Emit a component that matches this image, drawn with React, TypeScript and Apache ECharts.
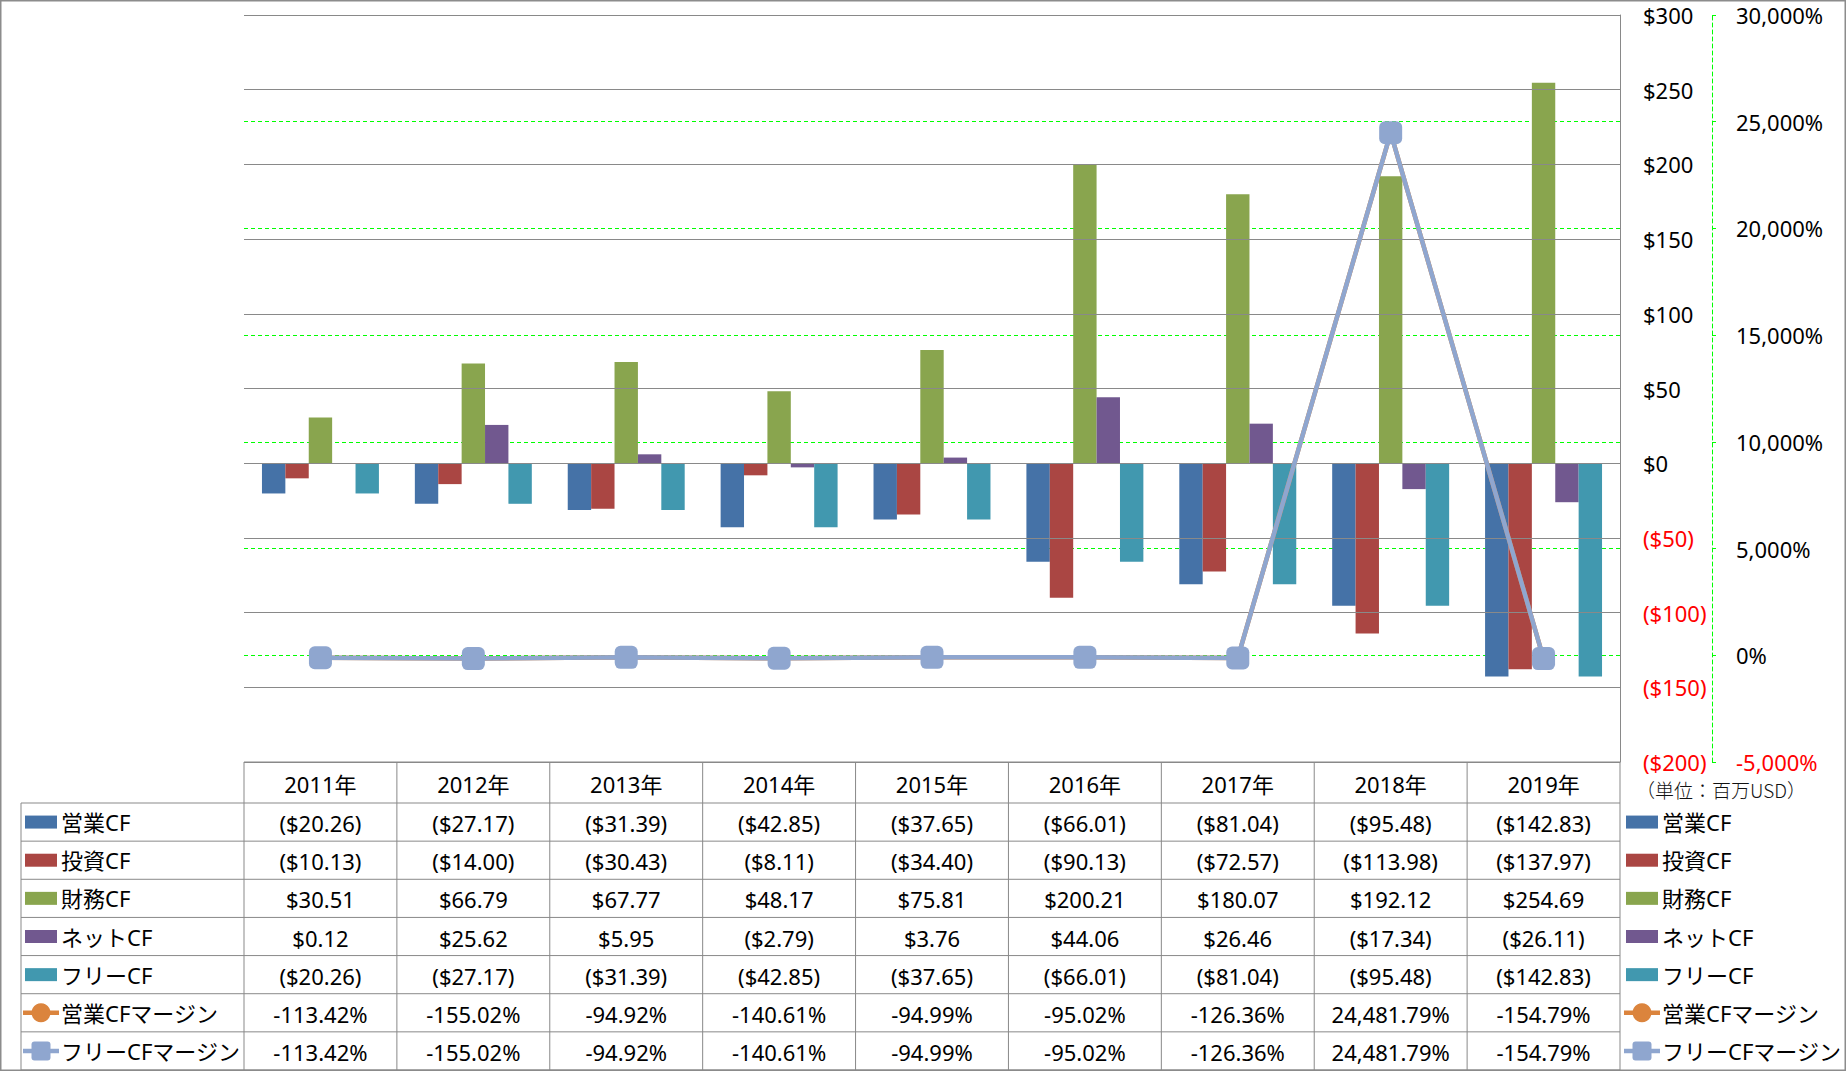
import React, { useEffect, useRef } from "react";
import * as echarts from "echarts";

// ---------- data ----------
const categories = ["2011年", "2012年", "2013年", "2014年", "2015年", "2016年", "2017年", "2018年", "2019年"];
const operatingCF = [-20.26, -27.17, -31.39, -42.85, -37.65, -66.01, -81.04, -95.48, -142.83];
const investingCF = [-10.13, -14.0, -30.43, -8.11, -34.4, -90.13, -72.57, -113.98, -137.97];
const financingCF = [30.51, 66.79, 67.77, 48.17, 75.81, 200.21, 180.07, 192.12, 254.69];
const netCF = [0.12, 25.62, 5.95, -2.79, 3.76, 44.06, 26.46, -17.34, -26.11];
const freeCF = [-20.26, -27.17, -31.39, -42.85, -37.65, -66.01, -81.04, -95.48, -142.83];
const operatingMargin = [-113.42, -155.02, -94.92, -140.61, -94.99, -95.02, -126.36, 24481.79, -154.79];
const freeMargin = [-113.42, -155.02, -94.92, -140.61, -94.99, -95.02, -126.36, 24481.79, -154.79];

const seriesNames = ["営業CF", "投資CF", "財務CF", "ネットCF", "フリーCF", "営業CFマージン", "フリーCFマージン"];
const seriesColors = ["#4572A7", "#AA4643", "#89A54E", "#71588F", "#4198AF", "#DB843D", "#8FA6CF"];
const unitLabel = "（単位：百万USD）";

// primary axis (USD) and secondary axis (%)
const usdMin = -200, usdMax = 300, usdStep = 50;
const pctMin = -5000, pctMax = 30000, pctStep = 5000;

// ---------- layout ----------
const W = 1847, H = 1071;
const PLOT_L = 244, PLOT_R = 1620, PLOT_T = 15, PLOT_B = 762;
const HEAD_B = 803, TABLE_B = 1070, LEG_L = 21;
const FONT = "'Noto Sans', 'Noto Sans CJK JP', sans-serif";
const LINE_COLOR = "#898989";
const FS = 22;

const money = (v: number) => {
  const s = "$" + Math.abs(v).toFixed(2);
  return v < 0 ? `(${s})` : s;
};
const pctFmt = new Intl.NumberFormat("en-US", { minimumFractionDigits: 2, maximumFractionDigits: 2 });
const pct = (v: number) => pctFmt.format(v) + "%";
const intFmt = new Intl.NumberFormat("en-US");

export default function App() {
  const ref = useRef<HTMLDivElement>(null);

  useEffect(() => {
    if (!ref.current) return;
    const chart = echarts.init(ref.current, null, { renderer: "svg", width: W, height: H });

    const rows = [
      { values: operatingCF, fmt: money, kind: "bar" },
      { values: investingCF, fmt: money, kind: "bar" },
      { values: financingCF, fmt: money, kind: "bar" },
      { values: netCF, fmt: money, kind: "bar" },
      { values: freeCF, fmt: money, kind: "bar" },
      { values: operatingMargin, fmt: pct, kind: "circle" },
      { values: freeMargin, fmt: pct, kind: "square" },
    ];

    const n = categories.length;
    const cw = (PLOT_R - PLOT_L) / n;
    const rh = (TABLE_B - HEAD_B) / rows.length;
    const g: any[] = [];
    const line = (x1: number, y1: number, x2: number, y2: number) =>
      g.push({ type: "line", silent: true, z: 10, shape: { x1, y1, x2, y2 }, style: { stroke: LINE_COLOR, lineWidth: 1 } });
    const text = (x: number, y: number, t: string, align: string, extra: any = {}) =>
      g.push({
        type: "text",
        silent: true,
        x,
        y,
        style: {
          text: t,
          font: `${FS}px ${FONT}`,
          fill: "#000",
          align,
          verticalAlign: "middle",
          textAlign: align,
          textVerticalAlign: "middle",
          ...extra,
        },
      });

    // outer border
    g.push({
      type: "rect",
      silent: true,
      shape: { x: 0.75, y: 0.75, width: W - 2.5, height: H - 1.5 },
      style: { fill: "none", stroke: "#8c8c8c", lineWidth: 1.5 },
    });

    // table grid
    line(PLOT_L, PLOT_B, PLOT_R, PLOT_B);
    for (let r = 0; r <= rows.length; r++) {
      const y = HEAD_B + r * rh;
      line(LEG_L, y, PLOT_R, y);
    }
    for (let c = 0; c <= n; c++) {
      const x = PLOT_L + c * cw;
      line(x, PLOT_B, x, TABLE_B);
    }
    line(LEG_L, HEAD_B, LEG_L, TABLE_B);

    // header
    categories.forEach((c, i) => text(PLOT_L + (i + 0.5) * cw, (PLOT_B + HEAD_B) / 2 + 1, c, "center"));

    // legend key helper
    const key = (x: number, y: number, idx: number) => {
      const kind = rows[idx].kind;
      const col = seriesColors[idx];
      if (kind === "bar") {
        g.push({ type: "rect", silent: true, shape: { x, y: y - 6.5, width: 32, height: 13 }, style: { fill: col } });
      } else {
        g.push({ type: "line", silent: true, shape: { x1: x - 2, y1: y, x2: x + 34, y2: y }, style: { stroke: col, lineWidth: 4.5 } });
        if (kind === "circle") {
          g.push({ type: "circle", silent: true, shape: { cx: x + 16, cy: y, r: 9.5 }, style: { fill: col } });
        } else {
          g.push({ type: "rect", silent: true, shape: { x: x + 6.5, y: y - 9.5, width: 19, height: 19, r: 3 }, style: { fill: col } });
        }
      }
    };

    rows.forEach((row, r) => {
      const y = HEAD_B + (r + 0.5) * rh;
      // left legend
      key(25, y, r);
      text(61, y, seriesNames[r], "left");
      // right legend
      key(1626, y, r);
      text(1662, y, seriesNames[r], "left");
      // values
      row.values.forEach((v, i) => text(PLOT_L + (i + 0.5) * cw, y + 1, row.fmt(v), "center"));
    });

    // unit label
    g.push({
      type: "text",
      silent: true,
      x: 1636,
      y: 789,
      style: {
        text: unitLabel,
        font: `300 19px 'Noto Sans CJK JP', sans-serif`,
        fill: "#111",
        align: "left",
        verticalAlign: "middle",
        textAlign: "left",
        textVerticalAlign: "middle",
      },
    });

    const barSeries = [operatingCF, investingCF, financingCF, netCF, freeCF].map((d, i) => ({
      name: seriesNames[i],
      type: "bar",
      yAxisIndex: 0,
      data: d,
      barGap: "0%",
      barCategoryGap: "23.5%",
      itemStyle: { color: seriesColors[i] },
    }));

    const option: any = {
      animation: false,
      backgroundColor: "#fff",
      textStyle: { fontFamily: FONT },
      grid: {
        left: PLOT_L,
        right: W - PLOT_R,
        top: PLOT_T,
        bottom: H - PLOT_B,
        containLabel: false,
        outerBoundsMode: "none",
      },
      xAxis: {
        type: "category",
        data: categories,
        axisLine: { show: false },
        axisTick: { show: false },
        axisLabel: { show: false },
        splitLine: { show: false },
      },
      yAxis: [
        {
          type: "value",
          position: "right",
          min: usdMin,
          max: usdMax,
          interval: usdStep,
          z: 3,
          axisLine: { show: true, lineStyle: { color: LINE_COLOR, width: 1 } },
          axisTick: { show: false },
          axisLabel: {
            margin: 23,
            fontSize: FS,
            fontFamily: FONT,
            formatter: (v: number) => (v < 0 ? `($${-v})` : `$${v}`),
            color: (v: any) => (Number(v) < 0 ? "#FF0000" : "#000000"),
          },
          splitLine: { show: true, lineStyle: { color: LINE_COLOR, width: 1 } },
        },
        {
          type: "value",
          position: "right",
          offset: 92,
          min: pctMin,
          max: pctMax,
          interval: pctStep,
          axisLine: { show: true, lineStyle: { color: "#00FF00", width: 1, type: [4, 3] } },
          axisTick: { show: true, length: 4, lineStyle: { color: "#00FF00", width: 1 } },
          axisLabel: {
            margin: 24,
            fontSize: FS,
            fontFamily: FONT,
            formatter: (v: number) => intFmt.format(v) + "%",
            color: (v: any) => (Number(v) < 0 ? "#FF0000" : "#000000"),
          },
          splitLine: {
            show: true,
            showMinLine: false,
            showMaxLine: false,
            lineStyle: { color: "#00FF00", width: 1, type: [4, 3] },
          },
        },
      ],
      series: [
        ...barSeries,
        {
          name: seriesNames[5],
          type: "line",
          yAxisIndex: 1,
          data: operatingMargin,
          symbol: "circle",
          symbolSize: 20,
          lineStyle: { color: seriesColors[5], width: 4.5 },
          itemStyle: { color: seriesColors[5] },
        },
        {
          name: seriesNames[6],
          type: "line",
          yAxisIndex: 1,
          data: freeMargin,
          symbol: "roundRect",
          symbolSize: 23,
          lineStyle: { color: seriesColors[6], width: 4.5 },
          itemStyle: { color: seriesColors[6] },
        },
      ],
      graphic: { elements: g },
    };

    chart.setOption(option);
    return () => chart.dispose();
  }, []);

  return (
    <div
      ref={ref}
      style={{ position: "absolute", left: 0, top: 0, width: W, height: H, background: "#fff", overflow: "hidden" }}
    />
  );
}
